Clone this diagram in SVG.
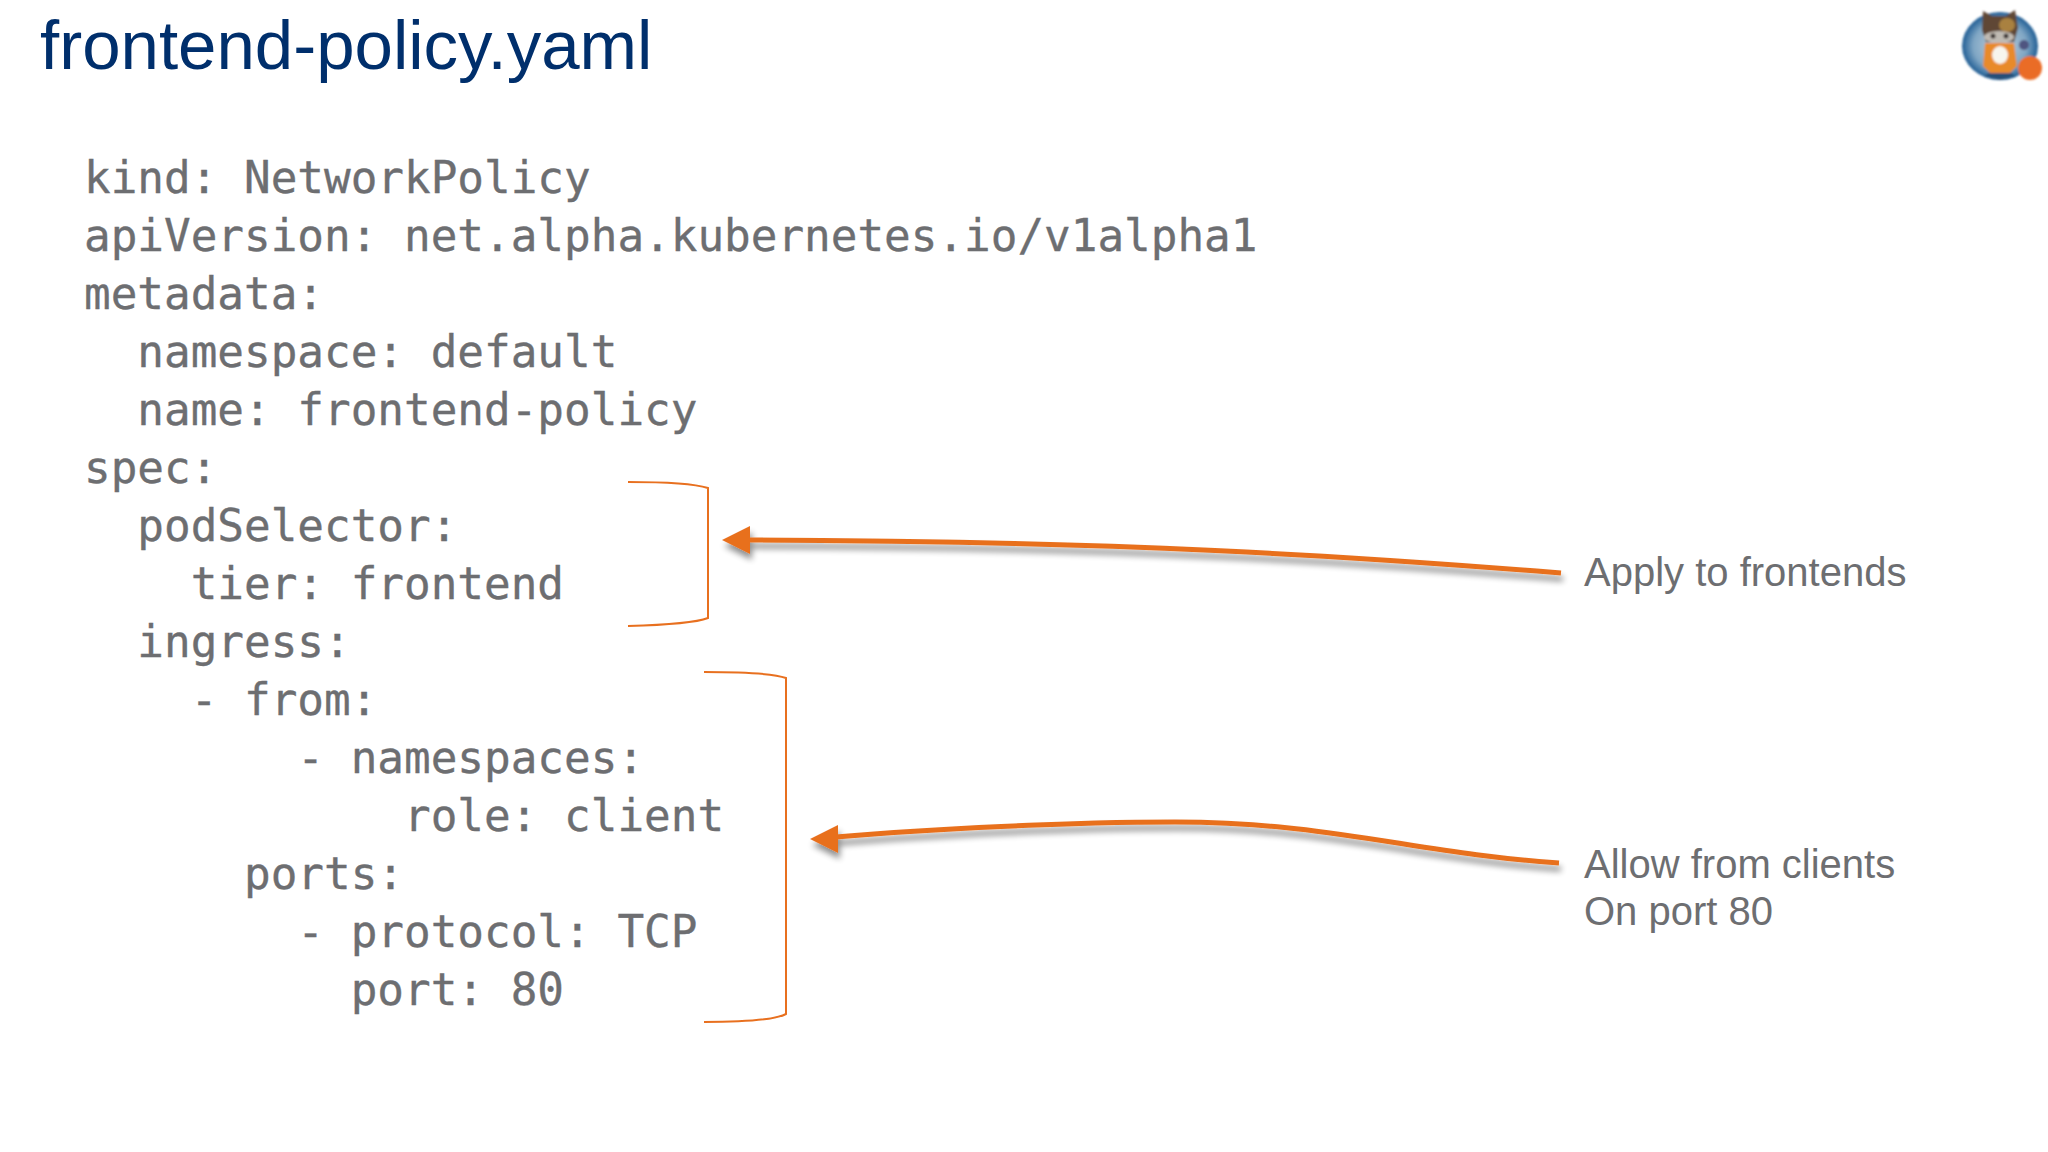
<svg xmlns="http://www.w3.org/2000/svg" width="2048" height="1152" viewBox="0 0 2048 1152">
<defs>
<style>
.code{font-family:"DejaVu Sans Mono","Liberation Mono",monospace;font-size:44.3px;fill:#6d6e71;stroke:#6d6e71;stroke-width:.35;white-space:pre}
.note{font-family:"Liberation Sans",Arial,sans-serif;font-size:40px;fill:#6d6e71}
.title{font-family:"Liberation Sans",Arial,sans-serif;font-size:69px;fill:#002f6c}
.brk{fill:none;stroke:#e8701f;stroke-width:2}
.arr{fill:none;stroke:#e8701f;stroke-width:5}
.head{fill:#e8701f;stroke:none}
</style>
<radialGradient id="disc" cx="50%" cy="50%" r="50%">
<stop offset="0" stop-color="#c5d3de"/><stop offset=".7" stop-color="#7fa6c4"/><stop offset="1" stop-color="#1f5d94"/>
</radialGradient>
<filter id="sh" x="-5%" y="-50%" width="110%" height="200%">
<feGaussianBlur in="SourceAlpha" stdDeviation="3"/>
<feOffset dx="2" dy="6"/>
<feComponentTransfer><feFuncA type="linear" slope="0.45"/></feComponentTransfer>
<feMerge><feMergeNode/><feMergeNode in="SourceGraphic"/></feMerge>
</filter>
<filter id="soft"><feGaussianBlur stdDeviation="1"/></filter>
</defs>
<rect width="2048" height="1152" fill="#fff"/>
<g id="title"><text class="title" x="40" y="69">frontend-policy.yaml</text></g>
<g id="code">
<text class="code" x="84" y="193">kind: NetworkPolicy</text>
<text class="code" x="84" y="251">apiVersion: net.alpha.kubernetes.io/v1alpha1</text>
<text class="code" x="84" y="309">metadata:</text>
<text class="code" x="84" y="367">  namespace: default</text>
<text class="code" x="84" y="425">  name: frontend-policy</text>
<text class="code" x="84" y="483">spec:</text>
<text class="code" x="84" y="541">  podSelector:</text>
<text class="code" x="84" y="599">    tier: frontend</text>
<text class="code" x="84" y="657">  ingress:</text>
<text class="code" x="84" y="715">    - from:</text>
<text class="code" x="84" y="773">        - namespaces:</text>
<text class="code" x="84" y="831">            role: client</text>
<text class="code" x="84" y="889">      ports:</text>
<text class="code" x="84" y="947">        - protocol: TCP</text>
<text class="code" x="84" y="1005">          port: 80</text>
</g>
<g id="connectors">
<path class="brk" d="M628 482C665 482 695 484 708 488V618C695 623 665 625 628 626"/>
<path class="brk" d="M704 672C740 672 775 674 786 678V1014C775 1020 740 1022 704 1022"/>
<g filter="url(#sh)">
<path class="arr" d="M1561 573C1350 556 1120 541 748 540"/>
<path class="head" d="M722 540L750 526V554Z"/>
</g>
<g filter="url(#sh)">
<path class="arr" d="M1559 863C1420 854 1330 822 1175 822C1070 822 930 829 836 837"/>
<path class="head" d="M810 839L838 825V853Z"/>
</g>
</g>
<g id="note-frontends"><text class="note" x="1584" y="586">Apply to frontends</text></g>
<g id="note-clients">
<text class="note" x="1584" y="878">Allow from clients</text>
<text class="note" x="1584" y="925">On port 80</text>
</g>
<g id="mascot" filter="url(#soft)">
<ellipse cx="2000" cy="46" rx="38" ry="34" fill="url(#disc)"/>
<path d="M1984 76L2000 66L2016 76L2000 80Z" fill="#274f78"/>
<path d="M1983 11L1992 16H2006L2015 10L2018 28L2014 42H1986L1982 30Z" fill="#5f4636"/>
<ellipse cx="2007" cy="25" rx="8" ry="7" fill="#a9813f"/>
<ellipse cx="1999" cy="37" rx="15" ry="6" fill="#bfbab2"/>
<circle cx="1993" cy="36" r="2.5" fill="#3b3330"/>
<circle cx="2006" cy="36" r="2.5" fill="#3b3330"/>
<path d="M1985 43H2014L2017 66L2010 73H1990L1983 66Z" fill="#e88a2c"/>
<ellipse cx="2000" cy="55" rx="8" ry="9" fill="#f7f5ee"/>
<circle cx="2024" cy="45" r="5" fill="#4f5480"/>
<circle cx="2030" cy="68" r="12" fill="#ea6c25"/>
</g>
</svg>
